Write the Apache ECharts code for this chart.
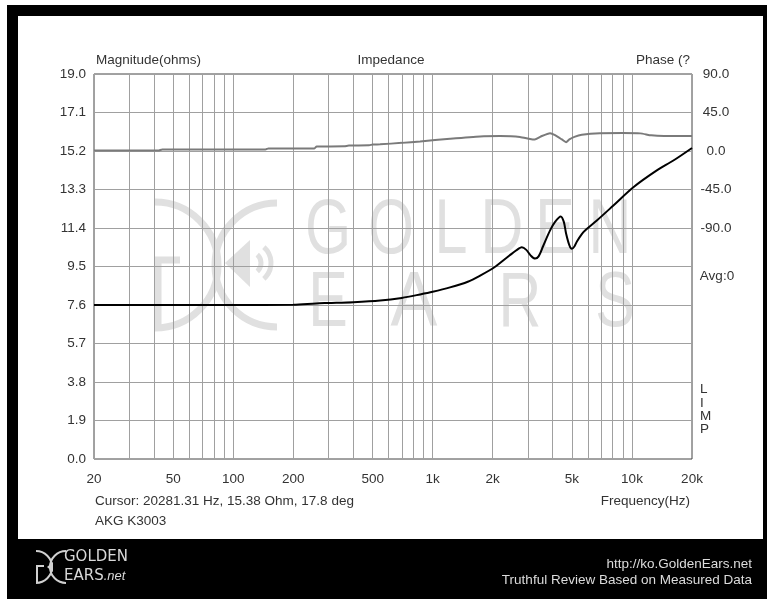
<!DOCTYPE html>
<html>
<head>
<meta charset="utf-8">
<script src="https://cdn.jsdelivr.net/npm/echarts@6/dist/echarts.min.js"></script>
<style>
  html, body { margin: 0; padding: 0; background: #fff; }
  #chart { width: 767px; height: 599px; }
</style>
</head>
<body>
<div id="chart"></div>
<script>
// Impedance magnitude (ohms) against frequency (Hz)
const freqHz = [20, 50, 100, 200, 260, 300, 400, 545, 700, 865,
  1000, 1222, 1500, 1729, 2033, 2428, 2700, 2800, 2950, 3100,
  3265, 3400, 3580, 3882, 4112, 4392, 4550, 4670, 4850, 4988,
  5150, 5302, 5600, 5816, 6660, 8066, 10160, 13320, 16130, 20000];
const magnitudeOhm = [7.60, 7.60, 7.60, 7.61, 7.68, 7.70, 7.74, 7.82, 7.95, 8.12,
  8.25, 8.47, 8.75, 9.05, 9.45, 10.04, 10.38, 10.45, 10.32, 10.05,
  9.89, 10.00, 10.50, 11.28, 11.70, 11.97, 11.70, 11.13, 10.55, 10.37,
  10.50, 10.75, 11.10, 11.28, 11.77, 12.51, 13.41, 14.24, 14.73, 15.35];

// Impedance phase (degrees) against frequency (Hz)
const phaseFreqHz = [20, 42, 44, 145, 150, 255, 262, 360, 380, 480,
  500, 545, 700, 865, 1222, 1729, 2180, 2740, 3082, 3250,
  3490, 3882, 4112, 4450, 4670, 4850, 5140, 5600, 6900, 9000,
  11000, 12500, 14500, 20000];
const phaseDeg = [0.5, 0.5, 1.8, 1.8, 3.0, 3.0, 5.3, 5.5, 6.4, 6.6,
  7.6, 7.8, 9.5, 11.2, 14.3, 17.0, 17.4, 16.5, 14.0, 13.4,
  17.0, 20.8, 18.5, 13.5, 10.3, 13.5, 16.5, 19.0, 20.8, 21.0,
  20.6, 18.3, 17.6, 17.6];

// Frequency grid and labels
const freqGridLines = [20, 30, 40, 50, 60, 70, 80, 90, 100, 200, 300, 400, 500, 600, 700, 800, 900,
  1000, 2000, 3000, 4000, 5000, 6000, 7000, 8000, 9000, 10000, 20000];
const freqTickValues = [20, 50, 100, 200, 500, 1000, 2000, 5000, 10000, 20000];
const freqTickLabels = ['20', '50', '100', '200', '500', '1k', '2k', '5k', '10k', '20k'];
// Phase axis labels that are printed
const phaseTickValues = [90, 45, 0, -45, -90];

const FONT = '"Liberation Sans", Arial, sans-serif';
const FS = 13.5;
const TXT = '#333';
const WM = '#e0e0e0';

const chart = echarts.init(document.getElementById('chart'), null, { renderer: 'canvas' });

function txt(x, y, text, align, fill) {
  return {
    type: 'text', x: x, y: y, silent: true,
    style: { text: text, fill: fill || TXT, font: FS + 'px ' + FONT, textAlign: align || 'left', textVerticalAlign: 'middle' }
  };
}
function wmLetter(cx, cy, ch, sx) {
  return { type: 'text', x: cx, y: cy, scaleX: sx || 0.76, z: -5, silent: true,
    style: { text: ch, fill: WM, font: '78px ' + FONT, textAlign: 'center', textVerticalAlign: 'middle' } };
}
function arc(cx, cy, r, a0, a1, color, w, z) {
  return { type: 'arc', z: z, silent: true,
    shape: { cx: cx, cy: cy, r: r, startAngle: a0, endAngle: a1, clockwise: true },
    style: { stroke: color, lineWidth: w, fill: null } };
}
const PI = Math.PI;

const graphics = [
  // frame
  { type: 'rect', z: -20, silent: true, shape: { x: 7, y: 5, width: 760, height: 594 }, style: { fill: '#000' } },
  { type: 'rect', z: -10, silent: true, shape: { x: 18, y: 16, width: 745, height: 523 }, style: { fill: '#fff' } },

  // background watermark logo
  arc(155, 265, 63, -PI / 2, PI / 2, WM, 7, -5),
  arc(277, 265, 62, PI / 2, PI * 1.5, WM, 7, -5),
  { type: 'polyline', z: -5, silent: true, shape: { points: [[180, 260], [158, 260], [158, 330]] },
    style: { stroke: WM, lineWidth: 7, fill: null } },
  { type: 'polygon', z: -5, silent: true, shape: { points: [[225, 263], [250, 240], [250, 287]] },
    style: { fill: WM } },
  arc(250, 263, 11, -0.85, 0.85, WM, 5, -5),
  arc(250, 263, 21, -0.85, 0.85, WM, 5, -5),
  wmLetter(328, 231, 'G'), wmLetter(391, 231, 'O'), wmLetter(451, 231, 'L'),
  wmLetter(502, 231, 'D'), wmLetter(555, 231, 'E'), wmLetter(610, 231, 'N'),
  wmLetter(328, 304, 'E'), wmLetter(414, 304, 'A', 0.9), wmLetter(520, 304, 'R'), wmLetter(615, 304, 'S'),

  // chart texts
  txt(96, 60, 'Magnitude(ohms)'),
  txt(391, 60, 'Impedance', 'center'),
  txt(690, 60, 'Phase (?', 'right'),
  txt(717, 276, 'Avg:0', 'center'),
  { type: 'text', x: 700, y: 383, silent: true,
    style: { text: 'L\nI\nM\nP', fill: TXT, font: FS + 'px ' + FONT, lineHeight: 13.3, textAlign: 'left', textVerticalAlign: 'top' } },
  txt(95, 501, 'Cursor: 20281.31 Hz, 15.38 Ohm, 17.8 deg'),
  txt(690, 501, 'Frequency(Hz)', 'right'),
  txt(95, 521, 'AKG K3003'),

  // footer
  arc(36, 567, 16, -PI / 2, PI / 2, '#d0d0d0', 2, 1),
  arc(66, 567, 16, PI / 2, PI * 1.5, '#d0d0d0', 2, 1),
  { type: 'polyline', z: 1, silent: true, shape: { points: [[44, 566], [37, 566], [37, 583]] },
    style: { stroke: '#d0d0d0', lineWidth: 2, fill: null } },
  { type: 'polygon', z: 1, silent: true, shape: { points: [[47, 567], [53, 562], [53, 572]] },
    style: { fill: '#d0d0d0' } },
  { type: 'text', x: 64, y: 557, silent: true,
    style: { text: 'GOLDEN', fill: '#d8d8d8', font: '15px "DejaVu Sans", sans-serif', textAlign: 'left', textVerticalAlign: 'middle' } },
  { type: 'text', x: 64, y: 576, silent: true,
    style: { text: '{a|EARS}{b|.net}', fill: '#d8d8d8', textAlign: 'left', textVerticalAlign: 'middle',
      rich: { a: { font: '15px "DejaVu Sans", sans-serif', fill: '#d8d8d8' },
              b: { font: 'italic 13px ' + FONT, fill: '#d8d8d8' } } } },
  txt(752, 564, 'http://ko.GoldenEars.net', 'right', '#dcdcdc'),
  txt(752, 580, 'Truthful Review Based on Measured Data', 'right', '#dcdcdc')
];

const option = {
  backgroundColor: '#fff',
  animation: false,
  grid: { left: 94, top: 74, width: 598, height: 385, show: true, borderColor: '#444', borderWidth: 1, backgroundColor: 'transparent' },
  graphic: graphics,
  xAxis: {
    type: 'log', logBase: 10, min: 20, max: 20000,
    axisLine: { show: false },
    axisTick: { show: false, customValues: freqGridLines },
    splitLine: { show: true, lineStyle: { color: '#a0a0a0', width: 1 } },
    axisLabel: {
      customValues: freqTickValues, margin: 13, color: TXT, fontSize: FS, fontFamily: FONT,
      formatter: function (v) {
        const i = freqTickValues.indexOf(Math.round(v));
        return i >= 0 ? freqTickLabels[i] : '';
      }
    }
  },
  yAxis: [
    {
      type: 'value', min: 0, max: 19, interval: 1.9, position: 'left',
      axisLine: { show: false }, axisTick: { show: false },
      splitLine: { show: true, lineStyle: { color: '#a0a0a0', width: 1 } },
      axisLabel: { margin: 8, color: TXT, fontSize: FS, fontFamily: FONT, formatter: v => v.toFixed(1) }
    },
    {
      type: 'value', min: -360, max: 90, interval: 45, position: 'right',
      axisLine: { show: false }, axisTick: { show: false }, splitLine: { show: false },
      axisLabel: {
        margin: 24, align: 'center', color: TXT, fontSize: FS, fontFamily: FONT,
        formatter: v => phaseTickValues.indexOf(v) >= 0 ? v.toFixed(1) : ''
      }
    }
  ],
  series: [
    {
      name: 'Phase', type: 'line', yAxisIndex: 1, z: 3,
      data: phaseFreqHz.map((f, i) => [f, phaseDeg[i]]),
      showSymbol: false, smooth: 0.2,
      lineStyle: { color: '#7a7a7a', width: 2 }
    },
    {
      name: 'Magnitude', type: 'line', yAxisIndex: 0, z: 4,
      data: freqHz.map((f, i) => [f, magnitudeOhm[i]]),
      showSymbol: false, smooth: 0.3,
      lineStyle: { color: '#000', width: 2 }
    }
  ]
};
chart.setOption(option);
</script>
</body>
</html>
